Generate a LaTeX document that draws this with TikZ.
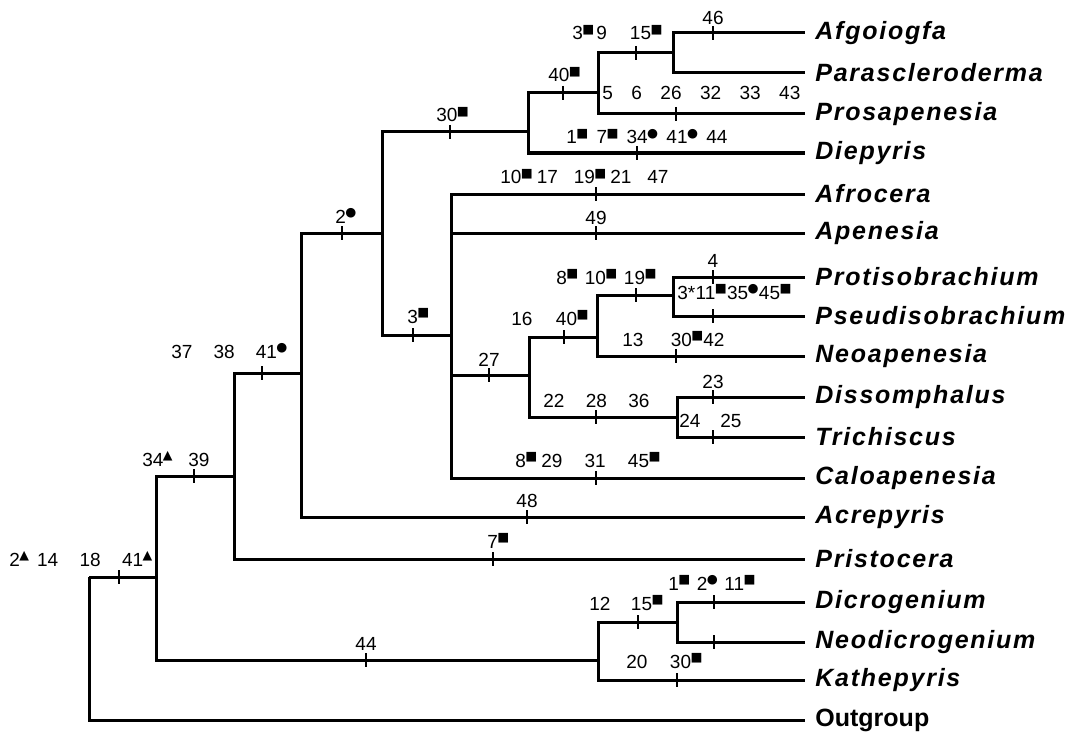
\documentclass[tikz,border=0pt]{standalone}
\usepackage{fontspec}
\setmainfont{Liberation Sans}
\newfontfamily\taxfont[LetterSpace=7]{Liberation Sans}
\newfontfamily\mkfont{DejaVu Sans}
\newcommand\sq{\kern-0.3pt\raisebox{3.3pt}{\mkfont\fontsize{6.3}{7}\selectfont ■}}
\newcommand\ci{\kern-0.3pt\raisebox{3.3pt}{\mkfont\fontsize{6.3}{7}\selectfont ●}}
\newcommand\tri{\kern-0.3pt\raisebox{3.3pt}{\mkfont\fontsize{6.3}{7}\selectfont ▲}}
\newcommand\ff{\hfill}
\tikzset{
  br/.style={line width=1.5pt, line join=miter},
  tk/.style={line width=1pt},
  num/.style={font=\fontsize{9.5}{10}\selectfont, inner sep=0pt},
  tax/.style={font=\taxfont\bfseries\itshape\fontsize{12.5}{13}\selectfont, anchor=west, inner sep=0pt, xshift=5pt},
  outg/.style={font=\bfseries\fontsize{12.5}{13}\selectfont, anchor=west, inner sep=0pt, xshift=5pt},
}
\newcommand\lab[5]{\node[num,anchor=base west] (#1) at (#2,#3) {\makebox[#4pt][s]{#5}};}
\newcommand\tkm[2]{\draw[tk] (#1,#2-7) -- (#1,#2+7);}
\begin{document}
\begin{tikzpicture}[x=0.5pt,y=-0.5pt]
\fill[white] (0,0) rectangle (1076,738);
\useasboundingbox (0,0) rectangle (1076,738);
% internal nodes
\coordinate (n1) at (89,577);
\coordinate (n2) at (156,577);
\coordinate (n3) at (234,476);
\coordinate (n4) at (301,373);
\coordinate (n5) at (382,233);
\coordinate (n6) at (528,132);
\coordinate (n7) at (598,93);
\coordinate (n8) at (673,53);
\coordinate (n9) at (451,335);
\coordinate (n10) at (529,375);
\coordinate (n11) at (597,337);
\coordinate (n12) at (673,295);
\coordinate (n13) at (677,417);
\coordinate (n14) at (598,660);
\coordinate (n15) at (677,622);
% leaf ends
\coordinate (afg) at (805,33);
\coordinate (par) at (805,73);
\coordinate (pros) at (805,114);
\coordinate (die) at (805,153);
\coordinate (afr) at (805,194);
\coordinate (ape) at (805,233);
\coordinate (prot) at (805,277);
\coordinate (pseu) at (805,316);
\coordinate (neo) at (805,356);
\coordinate (dis) at (805,397);
\coordinate (tri) at (805,437);
\coordinate (cal) at (805,478);
\coordinate (acr) at (805,517);
\coordinate (pri) at (805,559);
\coordinate (dic) at (805,602);
\coordinate (ned) at (805,642);
\coordinate (kat) at (805,680);
\coordinate (out) at (805,720);
% branches
\draw[br] (n1) |- (n2);
\draw[br] (n1) |- (out);
\draw[br] (n2) |- (n3);
\draw[br] (n2) |- (n14);
\draw[br] (n3) |- (n4);
\draw[br] (n3) |- (pri);
\draw[br] (n4) |- (n5);
\draw[br] (n4) |- (acr);
\draw[br] (n5) |- (n6);
\draw[br] (n5) |- (n9);
\draw[br] (n6) |- (n7);
\draw[br] (n6) |- (die);
\draw[br] (n7) |- (n8);
\draw[br] (n7) |- (pros);
\draw[br] (n8) |- (afg);
\draw[br] (n8) |- (par);
\draw[br] (n9) |- (afr);
\draw[br] (n9) |- (ape);
\draw[br] (n9) |- (n10);
\draw[br] (n9) |- (cal);
\draw[br] (n10) |- (n11);
\draw[br] (n10) |- (n13);
\draw[br] (n11) |- (n12);
\draw[br] (n11) |- (neo);
\draw[br] (n12) |- (prot);
\draw[br] (n12) |- (pseu);
\draw[br] (n13) |- (dis);
\draw[br] (n13) |- (tri);
\draw[br] (n14) |- (n15);
\draw[br] (n14) |- (kat);
\draw[br] (n15) |- (dic);
\draw[br] (n15) |- (ned);
% ticks
\tkm{713}{33} \tkm{636}{53} \tkm{563}{93} \tkm{676}{114} \tkm{637}{153}
\tkm{450}{132} \tkm{596}{194} \tkm{596}{233} \tkm{636}{295} \tkm{713}{277}
\tkm{713}{316} \tkm{564}{337} \tkm{676}{356} \tkm{489}{375} \tkm{713}{397}
\tkm{596}{417} \tkm{713}{437} \tkm{596}{478} \tkm{413}{335} \tkm{342}{233}
\tkm{262}{373} \tkm{527}{517} \tkm{493}{559} \tkm{194}{476} \tkm{119}{577}
\tkm{366}{660} \tkm{638}{622} \tkm{714}{602} \tkm{714}{642} \tkm{677}{680}
% character labels
\node[num,anchor=base] (c46) at (713,25) {46};
\lab{c3a}{572}{40}{45}{3\sq\hspace{1pt}9\ff15\sq}
\node[num,anchor=base west] (c40a) at (548,82) {40\sq};
\lab{c5}{602}{100}{99}{5\ff6\ff26\ff32\ff33\ff43}
\lab{c1a}{566}{144}{80.5}{1\sq\ff7\sq\ff34\ci\ff41\ci\ff44}
\node[num,anchor=base west] (c30) at (436,122) {30\sq};
\lab{c10}{500}{184}{84}{10\sq\hspace{2pt}17\ff19\sq\hspace{2pt}21\ff47}
\node[num,anchor=base] (c49) at (596,224) {49};
\lab{c8a}{556}{284}{50}{8\sq\ff10\sq\ff19\sq}
\node[num,anchor=base] (c4) at (713,267) {4};
\lab{c3b}{677}{299}{57}{3*\ff11\sq\ff35\ci\ff45\sq}
\lab{c16}{511}{325}{38.5}{16\ff40\sq}
\lab{c13}{622}{346}{51}{13\ff30\sq42}
\node[num,anchor=base] (c27) at (489,366) {27};
\node[num,anchor=base] (c23) at (713,388) {23};
\lab{c22}{543}{407}{53}{22\ff28\ff36}
\lab{c24}{679}{427}{31}{24\ff25}
\lab{c8b}{515}{467}{72.5}{8\sq\hspace{2pt}29\ff31\ff45\sq}
\node[num,anchor=base west] (c3c) at (407,323) {3\sq};
\node[num,anchor=base west] (c2a) at (335,223) {2\ci};
\lab{c37}{171}{358}{58}{37\ff38\ff41\ci}
\node[num,anchor=base] (c48) at (527,507) {48};
\node[num,anchor=base west] (c7) at (487,548) {7\sq};
\lab{c34}{142}{466}{33.5}{34\tri\ff39}
\lab{c2b}{9}{566}{71.5}{2\tri\hspace{4pt}14\ff18\ff41\tri}
\node[num,anchor=base] (c44) at (366,650) {44};
\lab{c12}{589}{610}{37}{12\ff15\sq}
\lab{c1b}{668}{590}{43.5}{1\sq\ff2\ci\ff11\sq}
\lab{c20}{626}{668}{38}{20\ff30\sq}
% taxa
\node[tax] (tafg) at (afg) {Afgoiogfa};
\node[tax] (tpar) at (par) {Parascleroderma};
\node[tax] (tpros) at (pros) {Prosapenesia};
\node[tax] (tdie) at (die) {Diepyris};
\node[tax] (tafr) at (afr) {Afrocera};
\node[tax] (tape) at (ape) {Apenesia};
\node[tax] (tprot) at (prot) {Protisobrachium};
\node[tax] (tpseu) at (pseu) {Pseudisobrachium};
\node[tax] (tneo) at (neo) {Neoapenesia};
\node[tax] (tdis) at (dis) {Dissomphalus};
\node[tax] (ttri) at (tri) {Trichiscus};
\node[tax] (tcal) at (cal) {Caloapenesia};
\node[tax] (tacr) at (acr) {Acrepyris};
\node[tax] (tpri) at (pri) {Pristocera};
\node[tax] (tdic) at (dic) {Dicrogenium};
\node[tax] (tned) at (ned) {Neodicrogenium};
\node[tax] (tkat) at (kat) {Kathepyris};
\node[outg] (tout) at (out) {Outgroup};
\end{tikzpicture}
\end{document}
